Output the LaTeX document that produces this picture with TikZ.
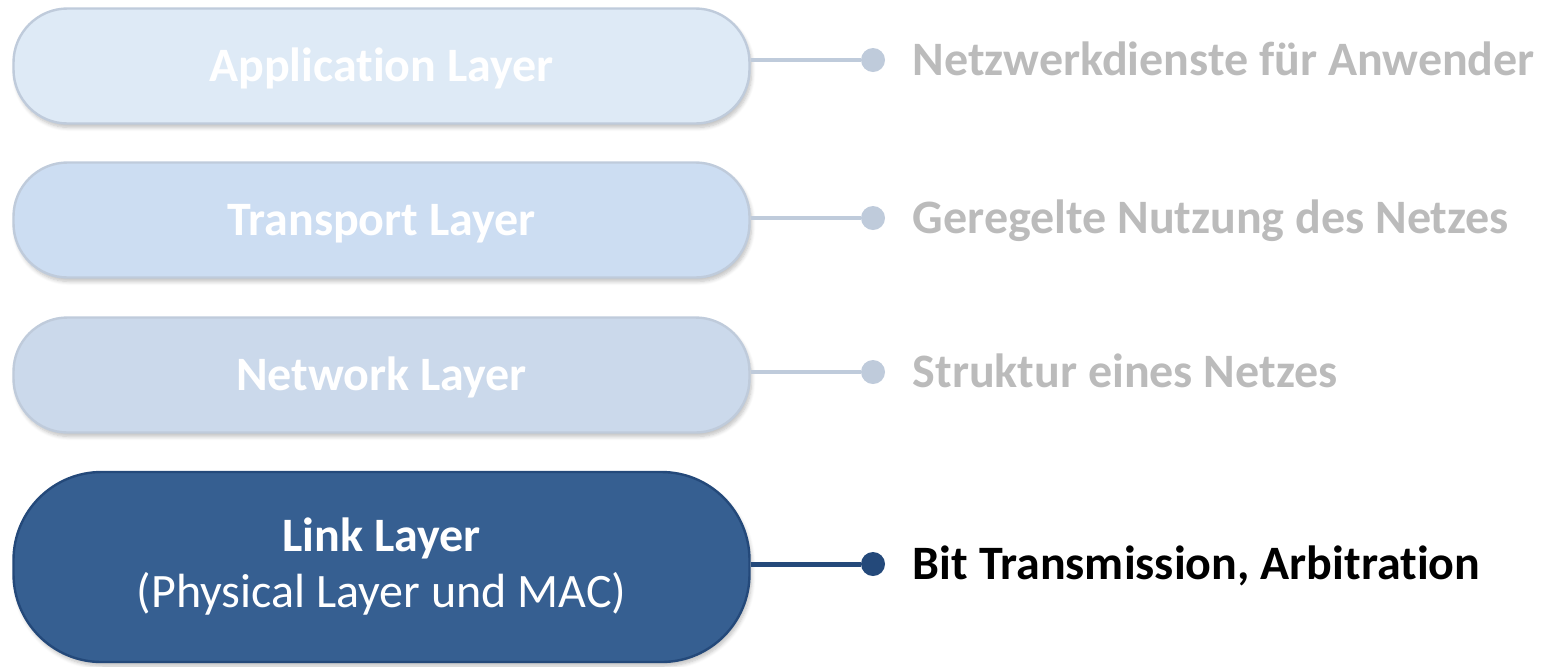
\documentclass[tikz,border=0pt]{standalone}
\usepackage{fontspec}
\setmainfont[Ligatures={NoCommon}]{Carlito}
\usetikzlibrary{positioning,shadows.blur}
\definecolor{AppClr}{rgb}{0.871,0.918,0.965}
\definecolor{TransClr}{rgb}{0.800,0.867,0.949}
\definecolor{NetClr}{rgb}{0.796,0.851,0.922}
\definecolor{LinkClr}{rgb}{0.212,0.373,0.569}
\definecolor{LinkEdgeClr}{rgb}{0.141,0.286,0.478}
\definecolor{PaleEdgeClr}{rgb}{0.749,0.796,0.859}
\definecolor{PaleTextClr}{rgb}{0.733,0.733,0.733}

\tikzset{
  layer/.style={draw, line width=1.2pt, minimum width=368pt, minimum height=57.5pt,
    rounded corners=27pt, text=white, font=\fontsize{24}{28}\selectfont\bfseries,
    blur shadow={shadow xshift=1pt, shadow yshift=-2pt, shadow blur steps=6, shadow opacity=25}},
  onerow/.style={text height=15.5pt, text depth=0pt},
  knob/.style={circle, inner sep=0pt, minimum size=12pt},
  duty/.style={anchor=west, inner sep=0pt, onerow, font=\fontsize{24}{28}\selectfont\bfseries},
}

\begin{document}
\begin{tikzpicture}[x=0.5pt,y=-0.5pt]
\useasboundingbox (0,0) rectangle (1545,666);

% the four layers
\node[layer,onerow,fill=AppClr,draw=PaleEdgeClr] (app) at (381.5,66) {Application Layer};
\node[layer,onerow,fill=TransClr,draw=PaleEdgeClr] (trans) at (381.5,220) {Transport Layer};
\node[layer,onerow,fill=NetClr,draw=PaleEdgeClr] (net) at (381.5,375) {Network Layer};
\node[layer,fill=LinkClr,draw=LinkEdgeClr,minimum height=95pt,rounded corners=44pt,align=center]
  (link) at (381.5,567) {Link Layer\\{\mdseries (Physical Layer und MAC)}};

% knobs
\node[knob,fill=PaleEdgeClr] (appdot) at (873,60) {};
\node[knob,fill=PaleEdgeClr] (transdot) at (873,218) {};
\node[knob,fill=PaleEdgeClr] (netdot) at (873,372) {};
\node[knob,fill=LinkEdgeClr] (linkdot) at (873,564) {};

\draw[PaleEdgeClr,line width=2pt] (app.east |- appdot) -- (appdot);
\draw[PaleEdgeClr,line width=2pt] (trans.east |- transdot) -- (transdot);
\draw[PaleEdgeClr,line width=2pt] (net.east |- netdot) -- (netdot);
\draw[LinkEdgeClr,line width=2.5pt] (link.east |- linkdot) -- (linkdot);

% what each layer does
\node[duty,text=PaleTextClr,right=13.5pt of appdot] (appduty) {Netzwerkdienste für Anwender};
\node[duty,text=PaleTextClr,right=13.5pt of transdot] (transduty) {Geregelte Nutzung des Netzes};
\node[duty,text=PaleTextClr,right=13.5pt of netdot] (netduty) {Struktur eines Netzes};
\node[duty,text=black,right=13.5pt of linkdot] (linkduty) {Bit Transmission, Arbitration};

\end{tikzpicture}
\end{document}
